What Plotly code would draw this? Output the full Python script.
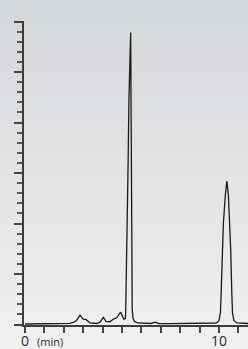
import plotly.graph_objects as go

# Chromatogram trace (time in min, detector signal in arbitrary units)
time_min = [0.0, 1.0, 1.8, 2.0, 2.3, 2.5, 2.66, 2.84, 3.0, 3.14, 3.35, 3.69, 3.87,
            4.04, 4.18, 4.38, 4.59, 4.73, 4.93, 5.10, 5.18, 5.196, 5.23, 5.27, 5.32,
            5.36, 5.45, 5.47, 5.48, 5.50, 5.51, 5.53, 5.57, 5.64, 5.82, 6.19, 6.50,
            6.70, 6.90, 7.5, 8.5, 9.5, 9.85, 10.0, 10.08, 10.12, 10.18, 10.23, 10.33,
            10.41, 10.49, 10.57, 10.61, 10.66, 10.70, 10.77, 10.93, 11.5]
signal = [0.05, 0.05, 0.06, 0.08, 0.12, 0.2, 0.4, 0.92, 0.52, 0.5, 0.17, 0.1, 0.23,
          0.7, 0.3, 0.27, 0.56, 0.66, 1.22, 0.52, 0.6, 1.5, 4.4, 10.3, 16.2,
          22.2, 28.9, 22.2, 16.2, 10.3, 4.4, 1.5, 0.6, 0.3, 0.15, 0.1, 0.1,
          0.23, 0.1, 0.08, 0.08, 0.08, 0.15, 0.35, 1.2, 3.4, 7.3, 10.0, 12.8,
          14.2, 12.8, 9.6, 7.3, 3.4, 1.2, 0.4, 0.15, 0.1]

x_tick_values = list(range(0, 12))
x_label_values = [0, 10]
x_label_text = ["0", "10"]
y_major_ticks = [0, 5, 10, 15, 20, 25, 30]
x_unit_label = "(min)"

W, H = 248, 349
ML, MR, MT, MB = 24, 0, 21, 24
PW, PH = W - ML - MR, H - MT - MB

fig = go.Figure()
fig.add_trace(go.Scatter(
    x=time_min, y=signal, mode="lines",
    line=dict(color="#1a1a1a", width=1.3),
    hoverinfo="skip", showlegend=False,
))

# vertical background gradient
shapes = []
n = 40
top_c = (214, 215, 217)
bot_c = (240, 240, 240)
y0p = -MB / PH
y1p = 1 + MT / PH
x0p = -ML / PW
for i in range(n):
    f = i / (n - 1)
    c = tuple(round(bot_c[k] + (top_c[k] - bot_c[k]) * f) for k in range(3))
    ya = y0p + (y1p - y0p) * i / n
    yb = y0p + (y1p - y0p) * (i + 1) / n + 0.002
    shapes.append(dict(type="rect", xref="paper", yref="paper", x0=x0p, x1=1.0,
                       y0=ya, y1=yb, line=dict(width=0),
                       fillcolor=f"rgb{c}", layer="below"))

annotations = [dict(
    text=t, xref="x", yref="paper", x=v, y=0, yshift=-15.5,
    xanchor="center", yanchor="middle", showarrow=False, borderpad=0,
    font=dict(size=14, color="#2a2a2a"),
) for v, t in zip(x_label_values, x_label_text)]
annotations.append(dict(
    text=x_unit_label, xref="x", yref="paper", x=1.3, y=0,
    yshift=-16, xanchor="center", yanchor="middle", showarrow=False, borderpad=0,
    font=dict(size=11, color="#2a2a2a"),
))

fig.update_layout(
    width=W, height=H,
    margin=dict(l=ML, r=MR, t=MT, b=MB, pad=0),
    paper_bgcolor="#e6e6e7", plot_bgcolor="rgba(0,0,0,0)",
    shapes=shapes,
    font=dict(family="Open Sans, Liberation Sans, sans-serif", color="#2a2a2a"),
    xaxis=dict(
        range=[-0.05, 11.5], showgrid=False, zeroline=False,
        showline=True, linecolor="#3c3c3c", linewidth=2,
        ticks="outside", tickvals=x_tick_values, showticklabels=False,
        ticklen=6, tickwidth=1.5, tickcolor="#444444", automargin=False,
    ),
    yaxis=dict(
        range=[-0.05, 30.05], showgrid=False, zeroline=False,
        showline=True, linecolor="#3c3c3c", linewidth=2,
        ticks="outside", tickvals=y_major_ticks, showticklabels=False,
        ticklen=8, tickwidth=2, tickcolor="#444444", automargin=False,
        minor=dict(dtick=1, ticks="outside", ticklen=5, tickwidth=1.5,
                   tickcolor="#555555", showgrid=False),
    ),
    annotations=annotations,
)

fig.write_html(
    "out.html",
    config={"displayModeBar": False},
    post_script="document.body.style.margin='0';document.body.style.overflow='hidden';",
)
